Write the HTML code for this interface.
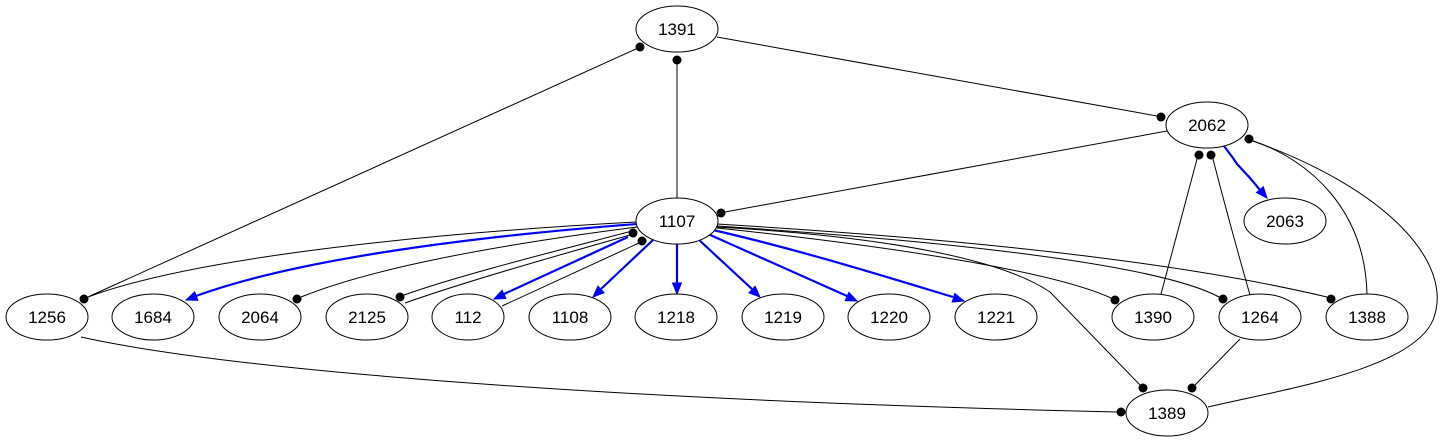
<!DOCTYPE html>
<html><head><meta charset="utf-8"><style>
html,body{margin:0;padding:0;background:#fff;}
svg{display:block;}
text{font-family:"Liberation Sans",Arial,sans-serif;font-size:17px;fill:#000;}
</style></head><body>
<svg width="1443" height="443" viewBox="0 0 1443 443" xmlns="http://www.w3.org/2000/svg">
<rect width="1443" height="443" fill="#fff"/>
<g fill="none" stroke="#000" stroke-width="1">
<path d="M717,37 L1157,116"/>
<path d="M636,49 L90,296"/>
<path d="M677,64 L677,198"/>
<path d="M1167,131 L725,212"/>
<path d="M637,222 C450,232 200,255 88,297"/>
<path d="M637,227 C520,242 380,265 301,297"/>
<path d="M636,230 C560,250 460,275 404,295"/>
<path d="M405,303 C470,280 570,252 630,235"/>
<path d="M502,306 L639,243"/>
<path d="M717,228 C880,245 1050,270 1111,298"/>
<path d="M717,226 C900,238 1150,260 1219,297"/>
<path d="M717,224 C900,235 1150,255 1327,297"/>
<path d="M716,227 C880,236 1000,258 1050,292 L1140,385"/>
<path d="M1197,159 L1161,294"/>
<path d="M1213,159 Q1230,225 1250,295"/>
<path d="M1253,141 C1310,160 1365,210 1367,294"/>
<path d="M1253,141 C1390,190 1455,265 1433,320 C1412,370 1280,390 1208,407"/>
<path d="M1240,339 L1195,385"/>
<path d="M81,337 C230,370 600,400 1117,412"/>
</g>
<g fill="none" stroke="#0000ff" stroke-width="2.2">
<path d="M637,224 C480,236 300,258 196,296"/>
<path d="M628,237 L504,294"/>
<path d="M653,240 L601,289"/>
<path d="M677,244 L677,283"/>
<path d="M698,239 L752,289"/>
<path d="M708,234 L847,296"/>
<path d="M713,230 C800,250 880,275 953,297"/>
<path d="M1224,146 L1233,158 L1237,164 L1250,178 L1260,190"/>
</g>
<g fill="#0000ff" stroke="#0000ff" stroke-width="1">
<polygon points="186,300 197.9,300.3 194.7,291.9"/>
<polygon points="494,299 505.9,298.5 502.1,290.3"/>
<polygon points="593,297 604.1,292.7 597.9,286.1"/>
<polygon points="677,294 681.5,283 672.5,283"/>
<polygon points="760,297 748.9,292.8 755.1,286.2"/>
<polygon points="857,301 845.2,300.6 848.9,292.4"/>
<polygon points="964,301 952.2,302.1 954.8,293.5"/>
<polygon points="1267,198 1256.5,192.5 1263.3,186.7"/>
</g>
<g fill="#000">
<circle cx="1161" cy="117" r="4.5"/>
<circle cx="640" cy="47" r="4.5"/>
<circle cx="677" cy="60" r="4.5"/>
<circle cx="721" cy="213" r="4.5"/>
<circle cx="84" cy="299" r="4.5"/>
<circle cx="297" cy="299" r="4.5"/>
<circle cx="400" cy="297" r="4.5"/>
<circle cx="633" cy="233" r="4.5"/>
<circle cx="642" cy="241" r="4.5"/>
<circle cx="1199" cy="155" r="4.5"/>
<circle cx="1211" cy="155" r="4.5"/>
<circle cx="1249" cy="139" r="4.5"/>
<circle cx="1115" cy="300" r="4.5"/>
<circle cx="1223" cy="299" r="4.5"/>
<circle cx="1331" cy="299" r="4.5"/>
<circle cx="1143" cy="388" r="4.5"/>
<circle cx="1192" cy="388" r="4.5"/>
<circle cx="1121" cy="412" r="4.5"/>
</g>
<g fill="#fff" stroke="#000" stroke-width="1">
<ellipse cx="677" cy="29" rx="41" ry="23"/>
<ellipse cx="1207" cy="125" rx="41" ry="23"/>
<ellipse cx="1285" cy="221" rx="41" ry="23"/>
<ellipse cx="677" cy="221" rx="41" ry="23"/>
<ellipse cx="47" cy="317" rx="41" ry="23"/>
<ellipse cx="153" cy="317" rx="41" ry="23"/>
<ellipse cx="260" cy="317" rx="41" ry="23"/>
<ellipse cx="367" cy="317" rx="41" ry="23"/>
<ellipse cx="468" cy="317" rx="36" ry="23"/>
<ellipse cx="570" cy="317" rx="41" ry="23"/>
<ellipse cx="676" cy="317" rx="41" ry="23"/>
<ellipse cx="783" cy="317" rx="41" ry="23"/>
<ellipse cx="889" cy="317" rx="41" ry="23"/>
<ellipse cx="996" cy="317" rx="41" ry="23"/>
<ellipse cx="1153" cy="317" rx="41" ry="23"/>
<ellipse cx="1260" cy="317" rx="41" ry="23"/>
<ellipse cx="1367" cy="317" rx="41" ry="23"/>
<ellipse cx="1167" cy="413" rx="41" ry="23"/>
</g>
<g text-anchor="middle">
<text x="677" y="35">1391</text>
<text x="1207" y="131">2062</text>
<text x="1285" y="227">2063</text>
<text x="677" y="227">1107</text>
<text x="47" y="323">1256</text>
<text x="153" y="323">1684</text>
<text x="260" y="323">2064</text>
<text x="367" y="323">2125</text>
<text x="468" y="323">112</text>
<text x="570" y="323">1108</text>
<text x="676" y="323">1218</text>
<text x="783" y="323">1219</text>
<text x="889" y="323">1220</text>
<text x="996" y="323">1221</text>
<text x="1153" y="323">1390</text>
<text x="1260" y="323">1264</text>
<text x="1367" y="323">1388</text>
<text x="1167" y="419">1389</text>
</g>
</svg>
</body></html>
